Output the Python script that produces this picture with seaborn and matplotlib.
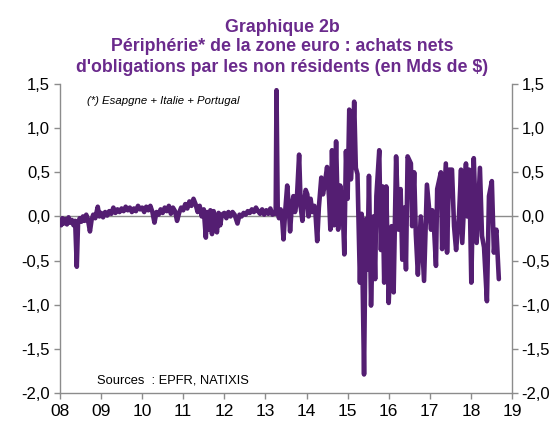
import matplotlib
matplotlib.use("Agg")
import matplotlib.pyplot as plt
import seaborn as sns
import pandas as pd
from matplotlib.ticker import FuncFormatter

sns.set_style("ticks")
plt.rcParams['font.family'] = ['Liberation Sans', 'DejaVu Sans']

# ---- data (decimal year, net purchases bn $) ----
dates = [
    2008.00, 2008.03, 2008.06, 2008.09, 2008.13, 2008.17, 2008.21, 2008.25, 2008.29, 2008.33,
    2008.37, 2008.41, 2008.44, 2008.48, 2008.52, 2008.56, 2008.60, 2008.64, 2008.68, 2008.73,
    2008.77, 2008.81, 2008.86, 2008.92, 2008.96, 2009.00, 2009.05, 2009.10, 2009.15, 2009.20,
    2009.25, 2009.30, 2009.35, 2009.40, 2009.45, 2009.50, 2009.55, 2009.60, 2009.65, 2009.70,
    2009.75, 2009.80, 2009.85, 2009.90, 2009.95, 2010.00, 2010.05, 2010.10, 2010.15, 2010.20,
    2010.25, 2010.30, 2010.35, 2010.40, 2010.45, 2010.50, 2010.55, 2010.60, 2010.65, 2010.70,
    2010.75, 2010.80, 2010.85, 2010.90, 2010.95, 2011.00, 2011.05, 2011.10, 2011.15, 2011.20,
    2011.25, 2011.30, 2011.35, 2011.40, 2011.45, 2011.50, 2011.55, 2011.58, 2011.62, 2011.66,
    2011.70, 2011.74, 2011.78, 2011.82, 2011.86, 2011.90, 2011.94, 2012.00, 2012.05, 2012.10,
    2012.15, 2012.20, 2012.25, 2012.32, 2012.37, 2012.42, 2012.47, 2012.52, 2012.57, 2012.62,
    2012.67, 2012.72, 2012.77, 2012.82, 2012.87, 2012.92, 2012.97, 2013.02, 2013.07, 2013.12,
    2013.17, 2013.22, 2013.25, 2013.27, 2013.30, 2013.33, 2013.37, 2013.40, 2013.44, 2013.48,
    2013.53, 2013.57, 2013.60, 2013.64, 2013.68, 2013.72, 2013.76, 2013.82, 2013.86, 2013.90,
    2013.94, 2013.98, 2014.02, 2014.05, 2014.10, 2014.14, 2014.19, 2014.22, 2014.26, 2014.30,
    2014.36, 2014.40, 2014.44, 2014.50, 2014.55, 2014.58, 2014.62, 2014.67, 2014.72, 2014.77,
    2014.82, 2014.88, 2014.92, 2014.96, 2015.00, 2015.04, 2015.08, 2015.12, 2015.16, 2015.20,
    2015.24, 2015.30, 2015.34, 2015.40, 2015.44, 2015.48, 2015.52, 2015.57, 2015.63, 2015.67,
    2015.70, 2015.77, 2015.81, 2015.85, 2015.89, 2015.94, 2016.00, 2016.07, 2016.12, 2016.18,
    2016.24, 2016.29, 2016.33, 2016.38, 2016.42, 2016.46, 2016.54, 2016.57, 2016.62, 2016.66,
    2016.71, 2016.78, 2016.86, 2016.93, 2017.03, 2017.06, 2017.10, 2017.15, 2017.18, 2017.27,
    2017.30, 2017.39, 2017.42, 2017.47, 2017.54, 2017.59, 2017.64, 2017.71, 2017.76, 2017.79,
    2017.88, 2017.91, 2017.96, 2018.01, 2018.07, 2018.14, 2018.22, 2018.27, 2018.32, 2018.39,
    2018.44, 2018.51, 2018.56, 2018.60, 2018.62, 2018.68,
]
values = [
    -0.05, -0.10, -0.02, -0.08, -0.03, -0.09, -0.01, -0.07, -0.04, -0.10,
    -0.05, -0.57, -0.08, -0.02, -0.06, 0.00, -0.05, 0.02, -0.03, -0.17,
    -0.04, 0.02, -0.02, 0.11, 0.00, 0.04, -0.01, 0.05, 0.01, 0.06,
    0.03, 0.10, 0.04, 0.08, 0.05, 0.09, 0.06, 0.11, 0.07, 0.10,
    0.05, 0.09, 0.06, 0.12, 0.08, 0.10, 0.05, 0.11, 0.07, 0.12,
    0.05, -0.07, 0.05, 0.02, 0.08, 0.04, 0.10, 0.06, 0.12, 0.03,
    0.10, 0.06, -0.05, 0.04, 0.10, 0.07, 0.14, 0.09, 0.17, 0.12,
    0.20, 0.14, 0.05, 0.12, 0.00, 0.08, -0.24, 0.05, -0.15, 0.07,
    -0.20, 0.06, -0.05, -0.18, 0.04, -0.10, 0.02, 0.04, -0.02, 0.05,
    0.00, 0.05, 0.02, -0.08, 0.02, 0.00, 0.04, 0.02, 0.06, 0.04,
    0.08, 0.05, 0.10, 0.06, 0.03, 0.08, 0.02, 0.07, 0.03, 0.09,
    0.02, 0.05, 0.03, 1.43, 0.05, -0.02, 0.08, 0.02, -0.26, 0.05,
    0.35, 0.10, -0.17, 0.10, 0.23, 0.05, 0.15, 0.70, 0.10, -0.05,
    0.15, 0.30, 0.25, 0.00, 0.20, 0.05, 0.12, 0.02, -0.28, 0.10,
    0.44, 0.25, 0.35, 0.56, 0.20, -0.15, 0.75, -0.10, 0.85, -0.15,
    0.35, 0.10, -0.43, 0.74, 0.20, 1.21, 0.42, 0.70, 1.30, 0.55,
    0.48, -0.75, 0.03, -1.79, -0.03, -0.60, 0.46, -1.01, 0.00, -0.71,
    0.23, 0.75, -0.38, 0.34, -0.75, 0.34, -0.98, -0.11, -0.86, 0.68,
    -0.15, 0.31, -0.49, 0.10, -0.60, 0.68, 0.60, -0.11, 0.50, -0.20,
    -0.66, 0.00, -0.73, 0.36, -0.15, 0.07, -0.10, -0.56, 0.31, 0.50,
    -0.37, 0.60, -0.41, 0.53, 0.53, -0.11, -0.38, 0.00, 0.53, -0.30,
    0.60, 0.00, 0.53, -0.75, 0.66, -0.30, 0.55, -0.22, -0.35, -0.96,
    0.23, 0.40, -0.41, -0.20, -0.15, -0.71,
]
year_ticks = [2008, 2009, 2010, 2011, 2012, 2013, 2014, 2015, 2016, 2017, 2018, 2019]
year_labels = ["08", "09", "10", "11", "12", "13", "14", "15", "16", "17", "18", "19"]
y_ticks = [-2.0, -1.5, -1.0, -0.5, 0.0, 0.5, 1.0, 1.5]

title_lines = ["Graphique 2b",
               "Périphérie* de la zone euro : achats nets",
               "d'obligations par les non résidents (en Mds de $)"]
note_text = "(*) Esapgne + Italie + Portugal"
source_text = "Sources  : EPFR, NATIXIS"

LINE = "#541E72"
TITLE = "#6A2A8C"
GREY = "#8C8C8C"

df = pd.DataFrame({"date": dates, "value": values})

fig = plt.figure(figsize=(5.55, 4.23), dpi=100)
ax = fig.add_axes([0.108, 0.0709, 0.8145, 0.7305])

ax.axhline(0, color=GREY, lw=1.0, zorder=1)
sns.lineplot(data=df, x="date", y="value", ax=ax, color=LINE, lw=3.3,
             estimator=None, sort=False, zorder=3,
             solid_joinstyle="round", solid_capstyle="round")

ax.set_xlim(2008, 2019)
ax.set_ylim(-2.0, 1.5)
ax.set_xticks(year_ticks)
ax.set_xticklabels(year_labels)
ax.set_yticks(y_ticks)
fmt = FuncFormatter(lambda v, p: f"{v:.1f}".replace(".", ","))
ax.yaxis.set_major_formatter(fmt)
ax.set_xlabel("")
ax.set_ylabel("")

ax2 = ax.twinx()
ax2.set_ylim(-2.0, 1.5)
ax2.set_yticks(y_ticks)
ax2.yaxis.set_major_formatter(fmt)

for a in (ax, ax2):
    for s in a.spines.values():
        s.set_color(GREY)
        s.set_linewidth(1.0)
    a.spines["top"].set_visible(False)
    a.tick_params(axis="both", colors=GREY, labelcolor="black", labelsize=12,
                  direction="out", length=4, width=1.0, pad=3)
ax2.spines["left"].set_visible(False)
ax2.spines["bottom"].set_visible(False)
ax.spines["right"].set_visible(False)
ax.tick_params(axis="x", labelsize=12.5, pad=4)

ys = [0.936, 0.891, 0.840]
for t, yy in zip(title_lines, ys):
    fig.text(0.508, yy, t, ha="center", va="center", color=TITLE,
             fontsize=12.8, fontweight="bold")

fig.text(0.157, 0.761, note_text, ha="left", va="center", fontsize=8.2,
         style="italic", color="black")
fig.text(0.175, 0.101, source_text, ha="left", va="center", fontsize=9.3,
         color="black")

fig.savefig("out.png", dpi=100)
